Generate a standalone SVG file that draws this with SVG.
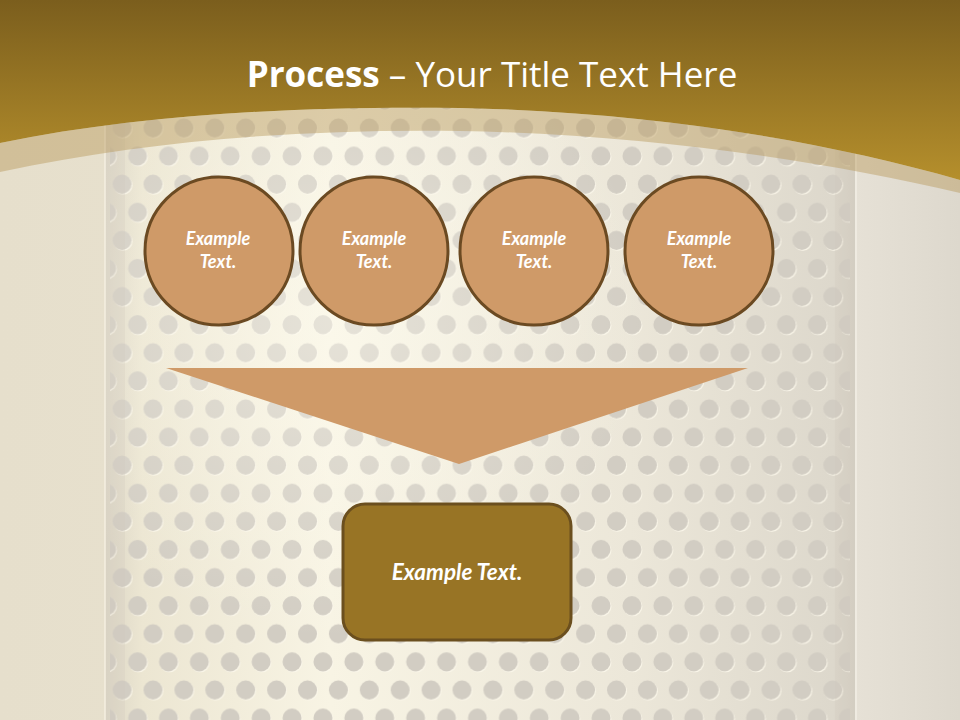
<svg xmlns="http://www.w3.org/2000/svg" width="960" height="720" viewBox="0 0 960 720">
  <defs>
    <style>
      .node-c { fill: #cf9a68; stroke: #6b4a22; stroke-width: 3; }
      .node-r { fill: #987425; stroke: #6b4f1e; stroke-width: 3; }
      .lbl { font-family: Lato, "Liberation Sans", sans-serif; font-weight: bold; font-style: italic; fill: #ffffff; text-anchor: middle; }
      .title { font-family: "Open Sans", "Liberation Sans", sans-serif; fill: #ffffff; text-anchor: middle; }
    </style>
    <linearGradient id="gold" x1="0" y1="0" x2="0" y2="1">
      <stop offset="0" stop-color="#7b5e1d"/>
      <stop offset="1" stop-color="#b58f2c"/>
    </linearGradient>
    <linearGradient id="panel" x1="0" y1="0" x2="1" y2="0">
      <stop offset="0" stop-color="#dcd6c6"/>
      <stop offset="0.05" stop-color="#ece6d2"/>
      <stop offset="0.3" stop-color="#f8f4e4"/>
      <stop offset="0.7" stop-color="#ece7d9"/>
      <stop offset="0.97" stop-color="#ddd8cc"/>
      <stop offset="1" stop-color="#d5d0c4"/>
    </linearGradient>
    <linearGradient id="leftp" x1="0" y1="0" x2="1" y2="0">
      <stop offset="0" stop-color="#e6dfcc"/>
      <stop offset="1" stop-color="#ede7d4"/>
    </linearGradient>
    <linearGradient id="rightp" x1="0" y1="0" x2="1" y2="0">
      <stop offset="0" stop-color="#e6e1d6"/>
      <stop offset="1" stop-color="#ddd8cd"/>
    </linearGradient>
    <radialGradient id="glow" cx="330" cy="320" r="320" gradientUnits="userSpaceOnUse">
      <stop offset="0" stop-color="#fffdf2" stop-opacity="0.45"/>
      <stop offset="1" stop-color="#fffdf2" stop-opacity="0"/>
    </radialGradient>
    <pattern id="dots" patternUnits="userSpaceOnUse" x="137.55" y="113.95" width="30.9" height="56.2">
      <circle cx="16.3" cy="15" r="9.5" fill="#fbf7ea"/>
      <circle cx="15.45" cy="14.05" r="9.5" fill="#d2cdc3"/>
      <circle cx="0.85" cy="43.1" r="9.5" fill="#fbf7ea"/>
      <circle cx="0" cy="42.15" r="9.5" fill="#d2cdc3"/>
      <circle cx="31.75" cy="43.1" r="9.5" fill="#fbf7ea"/>
      <circle cx="30.9" cy="42.15" r="9.5" fill="#d2cdc3"/>
    </pattern>
  </defs>

  <g id="background">
    <rect x="0" y="0" width="960" height="720" fill="url(#leftp)"/>
    <rect x="855" y="0" width="105" height="720" fill="url(#rightp)"/>
    <rect x="105" y="0" width="750" height="720" fill="url(#panel)"/>
    <rect x="110" y="0" width="740" height="720" fill="url(#dots)"/>
    <rect x="105" y="0" width="750" height="720" fill="url(#glow)"/>
    <rect x="105" y="0" width="20" height="720" fill="#cfc9bb" opacity="0.25"/>
    <rect x="835" y="0" width="20" height="720" fill="#cfc9bb" opacity="0.25"/>
    <line x1="105" y1="0" x2="105" y2="720" stroke="#f4efe0" stroke-width="1.5"/>
    <line x1="856" y1="0" x2="856" y2="720" stroke="#f2eee4" stroke-width="1.5"/>
    <path d="M0,143 C150,112 320,106 460,108 C650,112 820,140 960,180 L960,193 C820,160 640,134 460,131 C300,129 150,140 0,172 Z" fill="#b89a5c" opacity="0.45"/>
    <path d="M0,0 H960 V180 C820,140 650,112 460,108 C320,106 150,112 0,143 Z" fill="url(#gold)"/>
  </g>

  <g id="title">
    <text class="title" x="492" y="87" font-size="35"><tspan font-weight="bold">Process</tspan> – Your Title Text Here</text>
  </g>

  <g id="connectors">
    <polygon id="funnel" points="166,368 748,368 459,464" fill="#cf9a68"/>
  </g>

  <g id="node1">
    <circle class="node-c" cx="219" cy="251" r="74"/>
    <text class="lbl" x="218" y="245" font-size="18">Example</text>
    <text class="lbl" x="218" y="268" font-size="18">Text.</text>
  </g>
  <g id="node2">
    <circle class="node-c" cx="374" cy="251" r="74"/>
    <text class="lbl" x="374" y="245" font-size="18">Example</text>
    <text class="lbl" x="374" y="268" font-size="18">Text.</text>
  </g>
  <g id="node3">
    <circle class="node-c" cx="534" cy="251" r="74"/>
    <text class="lbl" x="534" y="245" font-size="18">Example</text>
    <text class="lbl" x="534" y="268" font-size="18">Text.</text>
  </g>
  <g id="node4">
    <circle class="node-c" cx="699" cy="251" r="74"/>
    <text class="lbl" x="699" y="245" font-size="18">Example</text>
    <text class="lbl" x="699" y="268" font-size="18">Text.</text>
  </g>
  <g id="result">
    <rect class="node-r" x="343" y="504" width="228" height="136" rx="22"/>
    <text class="lbl" x="457" y="580" font-size="22.5">Example Text.</text>
  </g>
</svg>
